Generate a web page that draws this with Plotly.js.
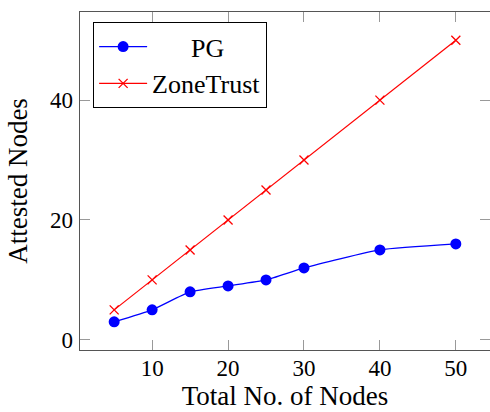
<!DOCTYPE html>
<html>
<head>
<meta charset="utf-8">
<script src="https://cdn.plot.ly/plotly-3.0.1.min.js"></script>
<style>html,body{margin:0;padding:0;background:#fff;}#chart{width:490px;height:412px;}</style>
</head>
<body>
<div id="chart"></div>
<script>
const nodes = [5, 10, 15, 20, 25, 30, 40, 50];
const pgValues = [3, 5, 8, 9, 10, 12, 15, 16];
const zoneTrustValues = [5, 10, 15, 20, 25, 30, 40, 50];
const seriesNames = ["\u00a0\u00a0\u00a0\u00a0\u00a0\u00a0PG", "ZoneTrust"];
const xTicks = [10, 20, 30, 40, 50];
const yTicks = [0, 20, 40];

const font = "Liberation Serif";

const traces = [
  {
    x: nodes, y: pgValues, name: seriesNames[0], type: "scatter", mode: "lines+markers",
    line: {color: "#0000ff", width: 1.3, shape: "spline", smoothing: 0.5},
    marker: {symbol: "circle", size: 11, color: "#0000ff"}
  },
  {
    x: nodes, y: zoneTrustValues, name: seriesNames[1], type: "scatter", mode: "lines+markers",
    line: {color: "#ff0000", width: 1.2},
    marker: {symbol: "x-thin-open", size: 9, color: "#ff0000", line: {color: "#ff0000", width: 1.3}}
  }
];

const axisCommon = {
  showgrid: false, zeroline: false,
  showline: true, linecolor: "#555", linewidth: 1.3, mirror: "ticks",
  ticks: "inside", ticklen: 10, tickcolor: "#999", tickwidth: 1,
  tickfont: {family: font, size: 23, color: "#000"}
};

const layout = {
  width: 490, height: 412,
  margin: {l: 80, r: 0, t: 12, b: 62},
  paper_bgcolor: "#fff", plot_bgcolor: "#fff",
  showlegend: true,
  legend: {
    x: 0.032, y: 0.97, xanchor: "left", yanchor: "top",
    bordercolor: "#000", borderwidth: 1, bgcolor: "#fff",
    font: {family: font, size: 26, color: "#000"},
    itemwidth: 48
  },
  xaxis: Object.assign({}, axisCommon, {
    range: [0.5, 54.5], tickvals: xTicks, ticktext: xTicks.map(String),
    ticklabelstandoff: -3,
    title: {text: "Total No. of Nodes", font: {family: font, size: 27, color: "#000"}, standoff: 6}
  }),
  yaxis: Object.assign({}, axisCommon, {
    range: [-1.7, 54.7], tickvals: yTicks, ticktext: yTicks.map(String),
    ticklabelstandoff: 1,
    title: {text: "Attested Nodes", font: {family: font, size: 27, color: "#000"}, standoff: 14}
  })
};

Plotly.newPlot("chart", traces, layout, {displayModeBar: false, staticPlot: true});
</script>
</body>
</html>
